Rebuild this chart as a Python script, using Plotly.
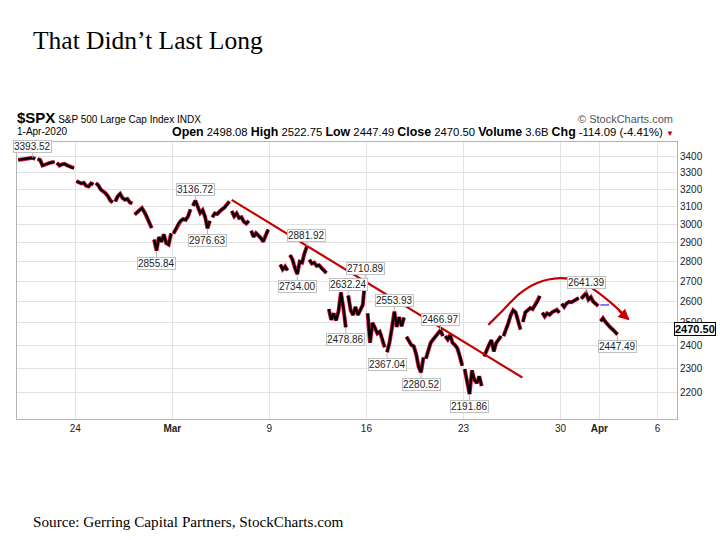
import math
import plotly.graph_objects as go

# ---------------- data ----------------
trading_days = ["02-19", "02-20", "02-21", "02-24", "02-25", "02-26", "02-27", "02-28",
                "03-02", "03-03", "03-04", "03-05", "03-06", "03-09", "03-10", "03-11",
                "03-12", "03-13", "03-16", "03-17", "03-18", "03-19", "03-20", "03-23",
                "03-24", "03-25", "03-26", "03-27", "03-30", "03-31", "04-01",
                "04-02", "04-03", "04-06"]

# intraday samples (8 per session)
intraday_prices = [
    [3380, 3383, 3386, 3388, 3390, 3391, 3393, 3387],  # Feb 19
    [3385, 3380, 3345, 3352, 3360, 3362, 3365, 3368],  # Feb 20
    [3362, 3345, 3352, 3356, 3348, 3340, 3332, 3330],  # Feb 21
    [3250, 3245, 3236, 3240, 3222, 3218, 3236, 3230],  # Feb 24
    [3238, 3225, 3200, 3190, 3178, 3160, 3135, 3125],  # Feb 25
    [3130, 3160, 3175, 3150, 3140, 3145, 3125, 3118],  # Feb 26
    [3055, 3065, 3080, 3092, 3070, 3045, 3010, 2980],  # Feb 27
    [2917, 2858, 2930, 2905, 2945, 2898, 2890, 2950],  # Feb 28
    [2950, 2975, 3005, 3020, 3030, 3025, 3045, 3085],  # Mar 2
    [3105, 3135, 3100, 3064, 3080, 3043, 2978, 3020],  # Mar 3
    [3040, 3062, 3058, 3075, 3085, 3095, 3112, 3130],  # Mar 4
    [3075, 3045, 3062, 3035, 3040, 3015, 3005, 3020],  # Mar 5
    [2965, 2932, 2952, 2940, 2925, 2906, 2945, 2972],  # Mar 6
    [None, None, None, None, 2785, 2760, 2775, 2755],  # Mar 9
    [2835, 2812, 2770, 2736, 2800, 2795, 2845, 2880],  # Mar 10
    [2810, 2790, 2795, 2778, 2782, 2765, 2755, 2742],  # Mar 11
    [2565, 2515, 2545, 2512, 2555, 2645, 2570, 2480],  # Mar 12
    [2630, 2560, 2537, 2575, 2537, 2560, 2585, 2710],  # Mar 13
    [2545, 2410, 2500, 2480, 2452, 2460, 2430, 2390],  # Mar 16
    [2368, 2410, 2476, 2553, 2482, 2527, 2485, 2525],  # Mar 17
    [2437, 2420, 2400, 2395, 2360, 2306, 2281, 2345],  # Mar 18
    [2340, 2380, 2410, 2425, 2440, 2450, 2466, 2440],  # Mar 19
    [2440, 2425, 2445, 2410, 2400, 2385, 2350, 2310],  # Mar 20
    [2295, 2240, 2192, 2290, 2250, 2237, 2265, 2225],  # Mar 23
    [2350, 2378, 2400, 2422, 2372, 2410, 2425, 2440],  # Mar 24
    [2440, 2467, 2500, 2537, 2560, 2550, 2513, 2470],  # Mar 25
    [2505, 2550, 2560, 2570, 2565, 2585, 2600, 2628],  # Mar 26
    [2548, 2530, 2545, 2538, 2550, 2555, 2562, 2548],  # Mar 27
    [2590, 2575, 2592, 2600, 2598, 2605, 2610, 2618],  # Mar 30
    [2615, 2628, 2641, 2610, 2622, 2600, 2592, 2580],  # Mar 31
    [2508, 2522, 2505, 2490, 2480, 2470, 2458, 2447],  # Apr 1
]

tick_days = ["02-24", "03-02", "03-09", "03-16", "03-23", "03-30", "04-01", "04-06"]
tick_text = ["24", "<b>Mar</b>", "9", "16", "23", "30", "<b>Apr</b>", "6"]
y_ticks = [2200, 2300, 2400, 2500, 2600, 2700, 2800, 2900, 3000, 3100, 3200, 3300, 3400]

# value labels: (text value, session, sample, placed above?)
label_values = [3393.52, 3136.72, 2976.63, 2855.84, 2881.92, 2734.00, 2710.89, 2632.24,
                2553.93, 2466.97, 2478.86, 2367.04, 2280.52, 2191.86, 2641.39, 2447.49]
label_sessions = ["02-19", "03-03", "03-03", "02-28", "03-10", "03-10", "03-13", "03-13",
                  "03-17", "03-19", "03-12", "03-17", "03-18", "03-23", "03-31", "04-01"]
label_samples = [6, 1, 6, 1, 7, 3, 7, 0, 3, 6, 7, 0, 6, 2, 2, 7]
label_above = [True, True, False, False, True, False, True, True,
               True, True, False, False, False, False, True, False]

# drawn trend line (session, fraction of session, value)
trend_sessions = ["03-05", "03-26"]
trend_fracs = [0.06, 0.03]
trend_values = [3139, 2260]

# drawn arc (position in trading days, value)
arc_pos = [24.28, 25.05, 25.91, 26.77, 27.98, 29.01, 29.87, 30.72, 31.50]
arc_values = [2491, 2561, 2641, 2691, 2716, 2699, 2649, 2585, 2518]

prev_close = 2584.59
last_close = 2470.50

# ---------------- build ----------------
N = 8


def pos(session, sample, n=N):
    return trading_days.index(session) + (sample + 0.5) / n


xs, ys = [], []
for d, prices in enumerate(intraday_prices):
    n = len(prices)
    for i, p in enumerate(prices):
        xs.append(d + (i + 0.5) / n)
        ys.append(p)
    xs.append(None)
    ys.append(None)

fig = go.Figure()

# red under-stroke then black stroke to mimic up/down bars
fig.add_trace(go.Scatter(x=xs, y=ys, mode="lines", connectgaps=False,
                         line=dict(color="#e0103c", width=4.0), hoverinfo="skip"))
fig.add_trace(go.Scatter(x=xs, y=ys, mode="lines", connectgaps=False,
                         line=dict(color="#000000", width=2.4), hoverinfo="skip"))

# trend line
tx = [trading_days.index(s) + f for s, f in zip(trend_sessions, trend_fracs)]
fig.add_trace(go.Scatter(x=tx, y=trend_values, mode="lines",
                         line=dict(color="#c40000", width=2.2), hoverinfo="skip"))
# arc
fig.add_trace(go.Scatter(x=arc_pos, y=arc_values, mode="lines",
                         line=dict(color="#c40000", width=2.2, shape="spline"),
                         hoverinfo="skip"))
# previous close dashed line
a1 = trading_days.index("04-01")
fig.add_trace(go.Scatter(x=[a1 + 0.05, a1 + 1.0], y=[prev_close, prev_close], mode="lines",
                         line=dict(color="#0000ff", width=1, dash="dash"), hoverinfo="skip"))

annotations = []
# arrow head on arc
annotations.append(dict(x=arc_pos[-1] + 0.05, y=math.log10(arc_values[-1] - 6),
                        xref="x", yref="y", text="", showarrow=True, arrowhead=2,
                        arrowsize=1.1, arrowwidth=2, arrowcolor="#c40000",
                        ax=-12, ay=-11, standoff=0))

for v, s, k, up in zip(label_values, label_sessions, label_samples, label_above):
    annotations.append(dict(
        x=pos(s, k), y=math.log10(v), xref="x", yref="y",
        text=f"{v:.2f}", showarrow=True, arrowhead=0, arrowwidth=1,
        arrowcolor="#b8b8b8", ax=0, ay=-11 if up else 12, standoff=0,
        bgcolor="white", bordercolor="#c0c0c0", borderwidth=1, borderpad=0,
        font=dict(family="Liberation Sans, Arial", size=10, color="#222222")))

# page texts (pixel -> paper helpers)
L, R, T, B = 17, 677, 142, 419


def px(x):
    return (x - L) / (R - L)


def py(y):
    return (B - y) / (B - T)


# last price tag
annotations.append(dict(x=px(674), y=math.log10(last_close), xref="paper", yref="y",
                        xanchor="left", text=f"<b>{last_close:.2f}</b>", showarrow=False,
                        bgcolor="white", bordercolor="#000000", borderwidth=1, borderpad=0,
                        font=dict(family="Liberation Sans, Arial", size=11, color="black")))

serif = "Liberation Serif, Times New Roman, serif"
sans = "Liberation Sans, Arial, sans-serif"
lab = "<span style='font-size:12.4px'><b>{}</b></span>"
annotations += [
    dict(x=px(31), y=py(40), xref="paper", yref="paper", xanchor="left", yanchor="middle",
         text="That Didn\u2019t Last Long", showarrow=False,
         font=dict(family=serif, size=25.5, color="black")),
    dict(x=px(31), y=py(521), xref="paper", yref="paper", xanchor="left", yanchor="middle",
         text="Source: Gerring Capital Partners, StockCharts.com", showarrow=False,
         font=dict(family=serif, size=15.2, color="black")),
    dict(x=px(15), y=py(117), xref="paper", yref="paper", xanchor="left", yanchor="middle",
         text="<span style='font-size:15px'><b>$SPX</b></span> S&amp;P 500 Large Cap Index "
              "<span style='font-size:10px'>INDX</span>",
         showarrow=False, font=dict(family=sans, size=10, color="black")),
    dict(x=px(15), y=py(132), xref="paper", yref="paper", xanchor="left", yanchor="middle",
         text="1-Apr-2020", showarrow=False, font=dict(family=sans, size=10, color="black")),
    dict(x=px(676), y=py(132), xref="paper", yref="paper", xanchor="right", yanchor="middle",
         text=lab.format("Open") + " 2498.08 " + lab.format("High") + " 2522.75 "
              + lab.format("Low") + " 2447.49 " + lab.format("Close") + " 2470.50 "
              + lab.format("Volume") + " 3.6B " + lab.format("Chg") + " -114.09 (-4.41%) "
              + "<span style='color:#c00000;font-size:8px'>\u25BC</span>",
         showarrow=False, font=dict(family=sans, size=11.3, color="black")),
    dict(x=px(675), y=py(119), xref="paper", yref="paper", xanchor="right", yanchor="middle",
         text="\u00A9 StockCharts.com", showarrow=False,
         font=dict(family=sans, size=11, color="#555555")),
]

fig.update_layout(
    width=720, height=540, autosize=False,
    margin=dict(l=L, r=720 - R, t=T, b=540 - B),
    paper_bgcolor="white", plot_bgcolor="white",
    showlegend=False,
    annotations=annotations,
    xaxis=dict(range=[0, 34.0], tickmode="array",
               tickvals=[trading_days.index(d) for d in tick_days], ticktext=tick_text,
               showgrid=True, gridcolor="#e2e2e2", gridwidth=1,
               showline=True, linecolor="#b4b4b4", linewidth=1, mirror=True,
               ticks="", zeroline=False,
               tickfont=dict(family=sans, size=10, color="#222222")),
    yaxis=dict(type="log", range=[math.log10(2093), math.log10(3494)],
               side="right", tickmode="array", tickvals=y_ticks,
               ticktext=[str(v) for v in y_ticks],
               showgrid=True, gridcolor="#e2e2e2", gridwidth=1,
               showline=True, linecolor="#b4b4b4", linewidth=1, mirror=True,
               ticks="", zeroline=False,
               tickfont=dict(family=sans, size=10, color="#222222")),
)

fig.write_html("out.html", config={"displayModeBar": False},
               post_script="document.body.style.margin='0px';")
